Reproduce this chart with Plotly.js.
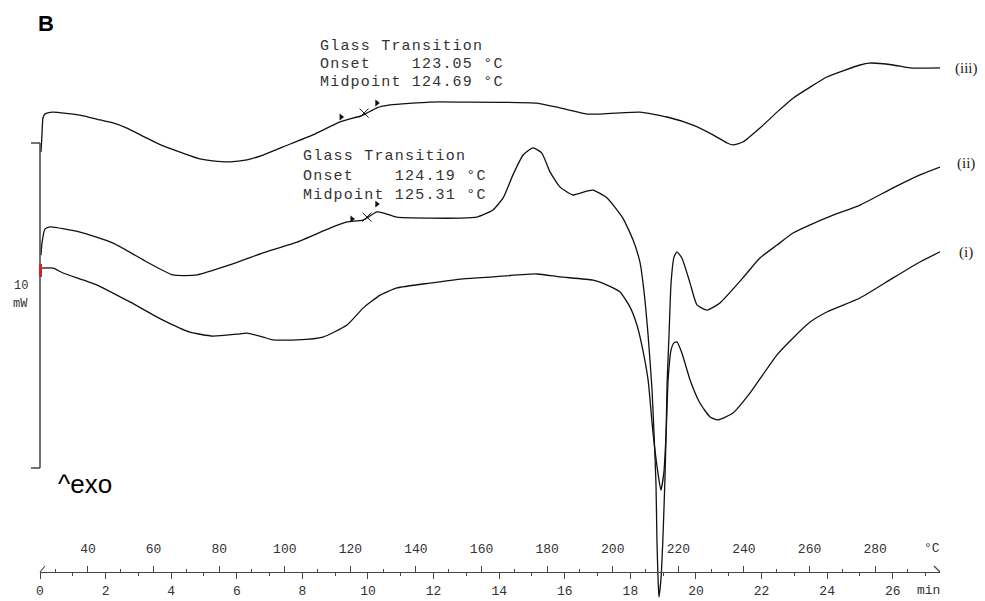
<!DOCTYPE html>
<html>
<head>
<meta charset="utf-8">
<script src="https://cdn.plot.ly/plotly-3.0.1.min.js"></script>
<style>html,body{margin:0;padding:0;background:#fff;}#chart{width:985px;height:601px;}</style>
</head>
<body>
<div id="chart"></div>
<script>
// ---- data: heat flow (mW, offset per curve) vs time (min); T(°C) = 25.37 + 10 * t ----
const timeIII = [0.03,0.06,0.09,0.15,0.21,0.40,1.22,1.83,2.23,2.65,3.26,3.75,4.27,4.88,5.27,5.79,6.31,6.80,7.41,8.32,9.15,9.85,10.27,10.67,11.89,12.80,15.15,15.85,16.68,17.07,18.29,19.12,19.91,20.52,20.95,21.13,21.43,21.95,22.47,22.96,23.48,23.99,25.00,25.30,26.01,26.52,27.44];
const heatIII = [12.92,13.45,13.97,14.09,14.12,14.15,14.06,13.91,13.82,13.66,13.35,13.11,12.92,12.71,12.65,12.62,12.68,12.83,13.08,13.45,13.85,14.06,14.28,14.37,14.46,14.46,14.43,14.28,14.09,14.09,14.15,14.00,13.75,13.45,13.20,13.14,13.23,13.66,14.15,14.58,14.92,15.23,15.60,15.66,15.60,15.51,15.51];

const timeII = [0.03,0.06,0.15,0.30,1.22,2.23,3.26,4.05,4.79,5.79,6.80,7.84,8.84,9.36,9.85,10.27,10.46,10.88,11.89,12.80,13.32,13.81,14.12,14.42,14.73,15.03,15.30,15.55,15.85,16.25,16.68,16.86,17.29,17.77,18.08,18.29,18.41,18.54,18.66,18.72,18.78,18.81,18.84,18.87,18.93,18.99,19.05,19.09,19.12,19.18,19.24,19.33,19.42,19.57,19.82,20.03,20.34,20.73,21.43,21.95,22.47,22.96,23.48,24.18,25.00,26.01,26.83,27.44];
const heatII = [9.75,10.12,10.55,10.62,10.46,10.12,9.54,9.14,9.14,9.45,9.82,10.15,10.58,10.77,10.83,11.08,11.05,10.92,10.89,10.89,10.92,11.14,11.51,12.22,12.83,13.05,12.89,12.31,11.85,11.60,11.72,11.75,11.51,10.89,10.22,9.54,8.68,7.29,5.60,4.28,2.74,0.98,-0.09,-0.77,-0.25,0.98,2.74,4.28,5.82,7.35,8.89,9.69,9.85,9.66,8.89,8.22,8.06,8.28,9.05,9.66,10.06,10.43,10.68,10.98,11.29,11.82,12.22,12.46];

const timeI = [0.03,0.40,0.70,1.74,2.74,3.75,4.57,5.27,6.01,6.31,6.80,7.10,7.84,8.63,9.36,9.85,10.37,10.88,11.89,12.90,13.81,15.15,15.85,16.86,17.29,17.68,17.99,18.20,18.38,18.54,18.69,18.84,18.93,19.02,19.09,19.15,19.24,19.33,19.42,19.57,19.82,20.12,20.43,20.67,21.13,21.65,22.47,22.96,23.48,23.99,25.00,26.01,26.83,27.44];
const heatI = [9.35,9.35,9.20,8.83,8.31,7.75,7.38,7.26,7.32,7.35,7.23,7.14,7.14,7.23,7.60,8.12,8.52,8.74,8.89,9.02,9.08,9.17,9.08,8.98,8.83,8.62,8.15,7.60,6.83,5.91,4.28,3.05,2.52,3.05,4.28,5.91,6.83,7.05,7.08,6.74,5.91,5.20,4.77,4.68,4.89,5.51,6.68,7.20,7.69,8.00,8.43,9.05,9.54,9.85];

// glass-transition evaluation markers
const gtFlagTime = [9.18, 10.27, 9.51, 10.27];
const gtFlagHeat = [14.00, 14.43, 10.86, 11.32];
const gtMidTime = [9.88, 9.97];
const gtMidHeat = [14.12, 10.92];

const curveLabels = ['(iii)', '(ii)', '(i)'];
const gtTexts = [
  ['Glass Transition', 'Onset    123.05 °C', 'Midpoint 124.69 °C'],
  ['Glass Transition', 'Onset    124.19 °C', 'Midpoint 125.31 °C']
];
const tempOffset = 25.37, heatingRate = 10; // °C at t=0, °C/min
const timeRange = [0, 27.44];
const heatRange = [-0.892, 17.6];

// ---- layout helpers (pixel -> paper) ----
const W = 985, H = 601, L = 40, R = 45;
const PW = W - L - R;
const px = p => (p - L) / PW;
const py = p => (H - p) / H;
const axisPos = py(572);
const nb = s => s.replace(/ /g, '\u00a0');

const lineStyle = {color: '#111', width: 1.3, shape: 'spline', smoothing: 0.5};
const traces = [
  {x: timeIII, y: heatIII, mode: 'lines', line: lineStyle, hoverinfo: 'skip'},
  {x: timeII, y: heatII, mode: 'lines', line: lineStyle, hoverinfo: 'skip'},
  {x: timeI, y: heatI, mode: 'lines', line: lineStyle, hoverinfo: 'skip'},
  {x: gtFlagTime, y: gtFlagHeat, mode: 'markers', marker: {symbol: 'triangle-right', size: 6, color: '#111'}, hoverinfo: 'skip'},
  {x: gtMidTime, y: gtMidHeat, mode: 'markers', marker: {symbol: 'x-thin-open', size: 9, color: '#111', line: {color: '#111', width: 1}}, hoverinfo: 'skip'},
  {x: [], y: [], xaxis: 'x2', yaxis: 'y', mode: 'lines', hoverinfo: 'skip'}
];

const tickFont = {family: 'Liberation Mono, monospace', size: 13, color: '#333'};
const monoFont = {family: 'Liberation Mono, monospace', size: 15, color: '#333'};

const annotations = [];
const addA = (text, x, y, font, xanchor) => annotations.push({
  text: text, x: x, y: y, xref: 'paper', yref: 'paper', showarrow: false,
  xanchor: xanchor || 'center', yanchor: 'middle', font: font, borderpad: 0
});
addA('<b>B</b>', px(37), py(24), {family: 'Liberation Sans, Arial', size: 22, color: '#000'}, 'left');
addA('^exo', px(57), py(484), {family: 'Liberation Sans, Arial', size: 26, color: '#000'}, 'left');
addA('10', px(21), py(286), {family: 'Liberation Mono, monospace', size: 12, color: '#333'});
addA('mW', px(20), py(304), {family: 'Liberation Mono, monospace', size: 12, color: '#333'});
addA('min', px(928), py(590), tickFont);
addA('°C', px(932), py(548), tickFont);
const labelY = [68, 163, 253];
curveLabels.forEach((s, i) => addA(s, px(966), py(labelY[i]), {family: 'Liberation Serif, Times New Roman, serif', size: 15, color: '#222'}));
const gtPos = [{x: 319, ys: [46, 64, 82]}, {x: 302, ys: [156, 177, 195]}];
gtTexts.forEach((lines, b) => lines.forEach((s, k) => addA('<span style="letter-spacing:1.2px">' + nb(s) + '</span>', px(gtPos[b].x), py(gtPos[b].ys[k]), monoFont, 'left')));

const shapes = [
  {type: 'line', xref: 'paper', yref: 'paper', x0: 0, x1: 0, y0: py(143), y1: py(468), line: {color: '#444', width: 1.5}},
  {type: 'line', xref: 'paper', yref: 'paper', x0: px(31), x1: 0, y0: py(143), y1: py(143), line: {color: '#444', width: 1.5}},
  {type: 'line', xref: 'paper', yref: 'paper', x0: px(31), x1: 0, y0: py(468), y1: py(468), line: {color: '#444', width: 1.5}},
  {type: 'rect', xref: 'paper', yref: 'paper', x0: px(39), x1: px(42), y0: py(277), y1: py(264), fillcolor: '#e02020', line: {width: 0}},
  {type: 'line', xref: 'paper', yref: 'paper', x0: px(934), x1: 1, y0: py(566), y1: axisPos, line: {color: '#444', width: 1.3}},
  {type: 'line', xref: 'paper', yref: 'paper', x0: 0, x1: px(45), y0: axisPos, y1: py(566), line: {color: '#444', width: 1.1}}
];

const layout = {
  width: W, height: H,
  margin: {l: L, r: R, t: 0, b: 0, pad: 0},
  paper_bgcolor: '#fff', plot_bgcolor: '#fff',
  showlegend: false,
  xaxis: {
    range: timeRange, anchor: 'free', position: axisPos, side: 'bottom',
    showline: true, linecolor: '#444', linewidth: 1.3,
    ticks: 'outside', ticklen: 6, tickwidth: 1, tickcolor: '#444',
    tick0: 0, dtick: 2, tickfont: tickFont, ticklabelstandoff: 0,
    minor: {dtick: 1, ticks: 'outside', ticklen: 3, tickcolor: '#444', tickwidth: 1, showgrid: false},
    showgrid: false, zeroline: false, automargin: false, fixedrange: true
  },
  xaxis2: {
    range: [tempOffset + heatingRate * timeRange[0], tempOffset + heatingRate * timeRange[1]],
    overlaying: 'x', anchor: 'free', position: axisPos, side: 'top',
    showline: false, ticks: 'outside', ticklen: 6, tickwidth: 1, tickcolor: '#444',
    tick0: 0, dtick: 20, tickfont: tickFont, ticklabelstandoff: 8,
    minor: {dtick: 10, ticks: 'outside', ticklen: 3, tickcolor: '#444', tickwidth: 1, showgrid: false},
    showgrid: false, zeroline: false, automargin: false, fixedrange: true
  },
  yaxis: {range: heatRange, visible: false, showgrid: false, zeroline: false, fixedrange: true},
  annotations: annotations,
  shapes: shapes
};

Plotly.newPlot('chart', traces, layout, {displayModeBar: false, staticPlot: true});
</script>
</body>
</html>
